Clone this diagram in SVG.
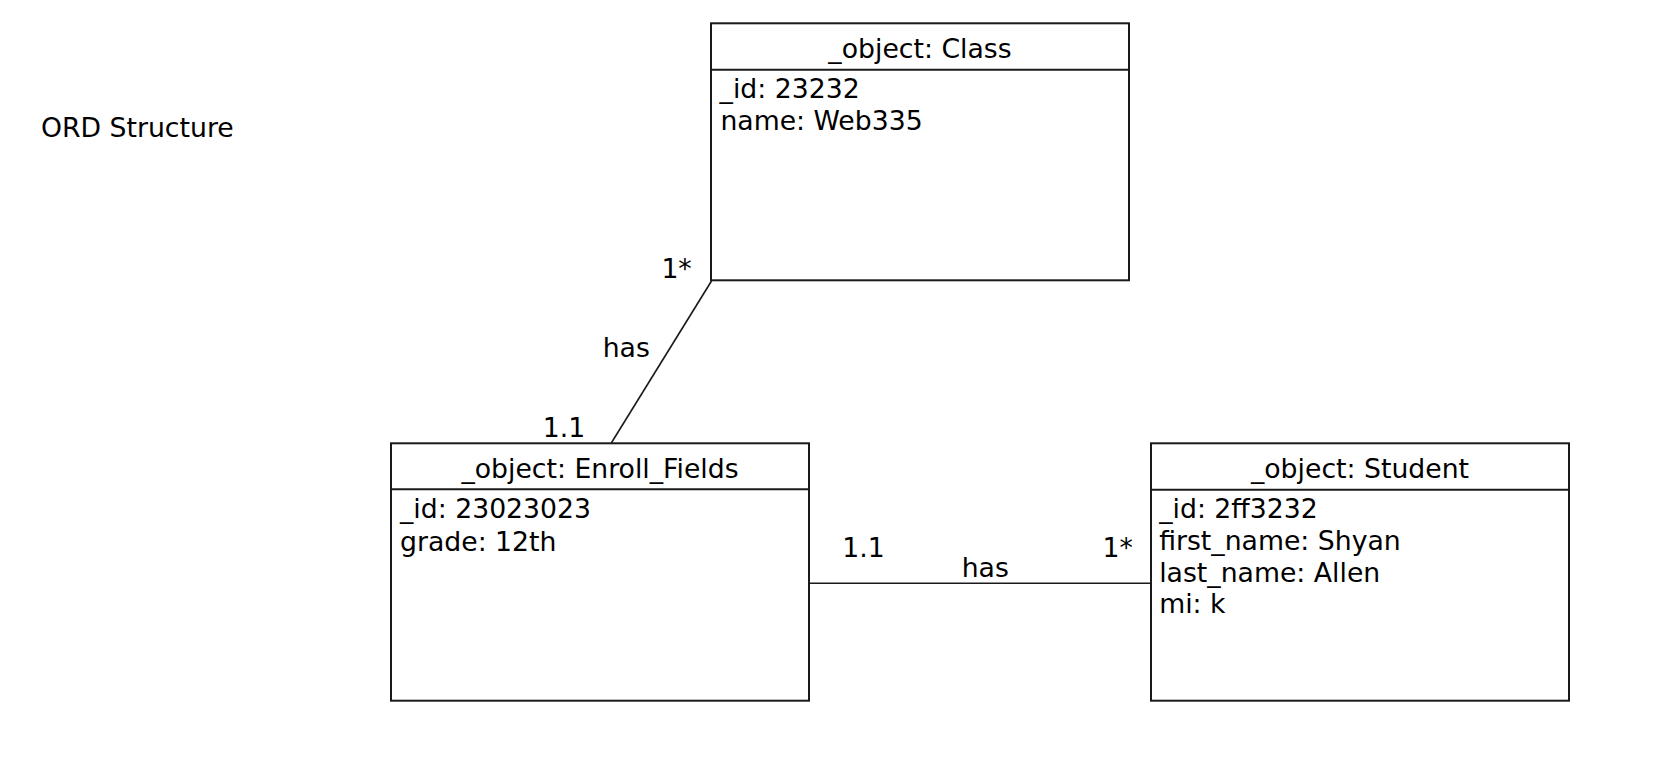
<svg xmlns="http://www.w3.org/2000/svg" width="1666" height="774" viewBox="0 0 1666 774">
<style>
text{font-family:"DejaVu Sans","Liberation Sans",sans-serif;font-size:26.7px;fill:#000}
.t{text-anchor:middle}
.box{fill:#fff;stroke:#1a1a1a;stroke-width:2}
.div{stroke:#1a1a1a;stroke-width:2}
.con{stroke:#1a1a1a;stroke-width:1.6;fill:none}
</style>
<rect width="1666" height="774" fill="#fff"/>
<text x="41" y="136.7">ORD Structure</text>
<g id="connectors">
<line class="con" x1="711.5" y1="281" x2="611.3" y2="443"/>
<line class="con" x1="810" y1="583.3" x2="1151" y2="583.3"/>
<text x="661.4" y="277.7">1*</text>
<text x="602.7" y="357.3">has</text>
<text x="542.7" y="436.7">1.1</text>
<text x="842.3" y="556.7">1.1</text>
<text x="961.7" y="576.7">has</text>
<text x="1102.5" y="557.3">1*</text>
</g>
<g id="class">
<rect class="box" x="711" y="23.3" width="418" height="257"/>
<line class="div" x1="711" y1="69.7" x2="1129" y2="69.7"/>
<text class="t" x="920" y="58.3">_object: Class</text>
<text x="719.6" y="98.3">_id: 23232</text>
<text x="720.4" y="130">name: Web335</text>
</g>
<g id="enroll_fields">
<rect class="box" x="391" y="443.3" width="418" height="257.4"/>
<line class="div" x1="391" y1="489.3" x2="809" y2="489.3"/>
<text class="t" x="600" y="477.8">_object: Enroll_Fields</text>
<text x="400" y="518.3">_id: 23023023</text>
<text x="400" y="550.5">grade: 12th</text>
</g>
<g id="student">
<rect class="box" x="1151" y="443.3" width="418" height="257.4"/>
<line class="div" x1="1151" y1="489.7" x2="1569" y2="489.7"/>
<text class="t" x="1360" y="478.3">_object: Student</text>
<text x="1159.2" y="518.3">_id: 2ff3232</text>
<text x="1159.2" y="550">first_name: Shyan</text>
<text x="1159.2" y="582">last_name: Allen</text>
<text x="1159.2" y="612.7">mi: k</text>
</g>
</svg>
